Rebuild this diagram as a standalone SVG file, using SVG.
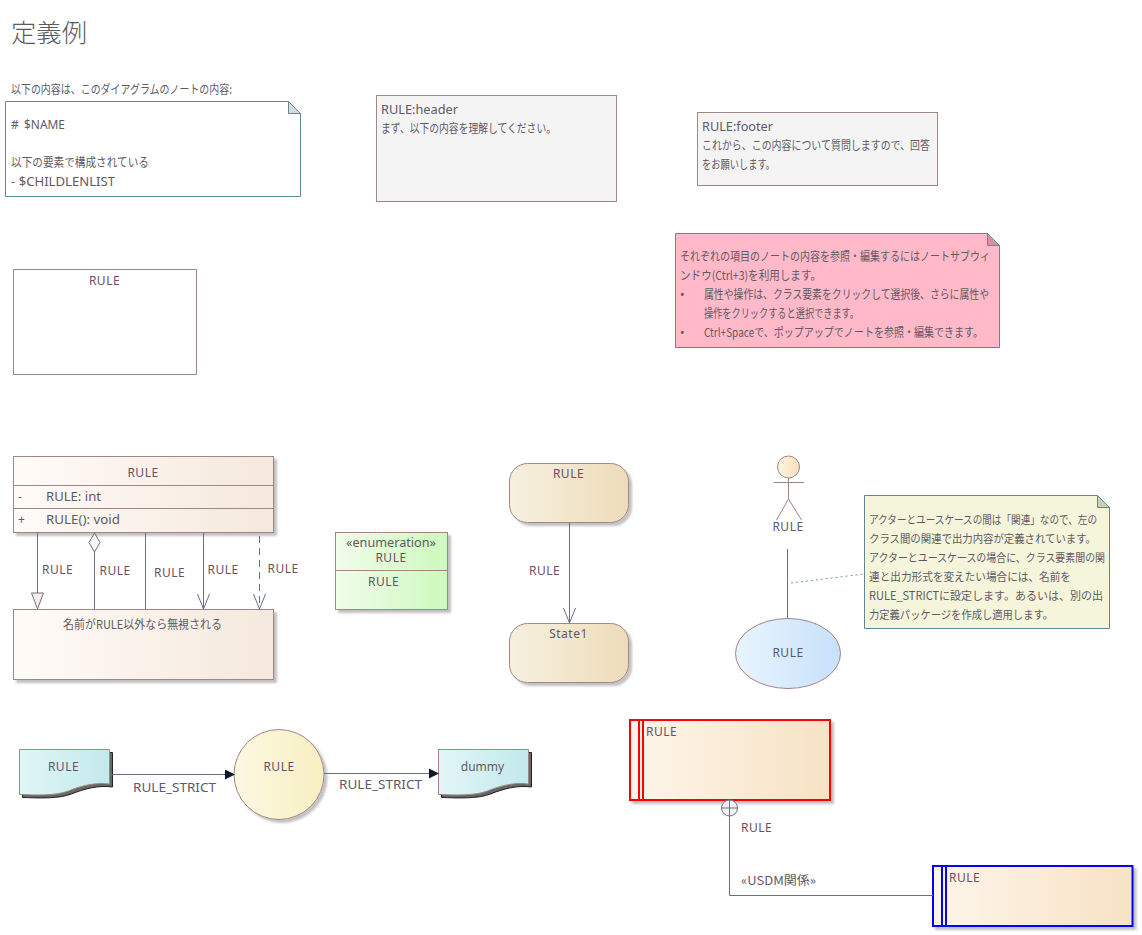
<svg xmlns="http://www.w3.org/2000/svg" width="1142" height="935" viewBox="0 0 1142 935">
<style>
text{font-family:"Noto Sans","Noto Sans CJK JP",sans-serif;font-size:12px;fill:#605a64}
.c{text-anchor:middle}
.t{font-size:25px;fill:#5a5a5a;font-family:"Noto Sans CJK JP","Noto Sans",sans-serif;font-weight:300}
.j{font-family:"Noto Sans CJK JP","Noto Sans",sans-serif;font-size:12px}
#note-yellow .j{font-size:11.400px}
.l{fill:#6e4f66;letter-spacing:.5px}
.r{letter-spacing:.5px}
.b{stroke:#a08686;stroke-width:1}
.n{stroke:#5f8796;stroke-width:1}
.e{fill:none;stroke:#6b7088;stroke-width:1}
.s{filter:url(#sh)}
</style>
<defs>
<filter id="sh" x="-5%" y="-5%" width="112%" height="115%"><feDropShadow dx="3" dy="3" stdDeviation="1.2" flood-color="#000" flood-opacity=".24"/></filter>
<linearGradient id="gc"><stop offset="0" stop-color="#fffbf8"/><stop offset="1" stop-color="#f5e8dc"/></linearGradient>
<linearGradient id="ge"><stop offset="0" stop-color="#f0fdea"/><stop offset="1" stop-color="#cdf9bd"/></linearGradient>
<linearGradient id="gs"><stop offset="0" stop-color="#f7f0e0"/><stop offset="1" stop-color="#eddcb9"/></linearGradient>
<linearGradient id="gu"><stop offset="0" stop-color="#e9f4fd"/><stop offset="1" stop-color="#c7e1fb"/></linearGradient>
<linearGradient id="gd"><stop offset="0" stop-color="#e2f6f7"/><stop offset="1" stop-color="#c2e9ec"/></linearGradient>
<linearGradient id="gp"><stop offset="0" stop-color="#fcf8e3"/><stop offset="1" stop-color="#f7efc1"/></linearGradient>
<linearGradient id="ga"><stop offset="0" stop-color="#fdf4e4"/><stop offset="1" stop-color="#f9dfb9"/></linearGradient>
<linearGradient id="gr"><stop offset="0" stop-color="#fdf5ea"/><stop offset="1" stop-color="#f7e2c4"/></linearGradient>
<path id="doc" d="M0 0H90V34.500C76 32.500 61 36.500 49 41.500C36 46.500 16 45.500 0 45Z"/>
</defs>
<text class="t" x="11" y="42" textLength="76" lengthAdjust="spacingAndGlyphs">定義例</text>
<text class="j" x="11" y="94" textLength="221" lengthAdjust="spacingAndGlyphs">以下の内容は、このダイアグラムのノートの内容:</text>

<g id="note-template">
<path class="n" fill="#fff" d="M5.500 101.500H288.500L300.500 113.500V196.500H5.500Z"/>
<path class="n" fill="#d6dcdc" d="M288.500 101.500L300.500 113.500H288.500Z"/>
<text x="11" y="129">#</text>
<text x="24" y="129" textLength="41" lengthAdjust="spacingAndGlyphs">$NAME</text>
<text class="j" x="11" y="167" textLength="138" lengthAdjust="spacingAndGlyphs">以下の要素で構成されている</text>
<text x="11" y="186" textLength="104" lengthAdjust="spacingAndGlyphs">- $CHILDLENLIST</text>
</g>
<g id="header">
<rect class="b" fill="#f4f4f4" x="376.500" y="95.500" width="240" height="106"/>
<text x="381" y="114" textLength="77" lengthAdjust="spacingAndGlyphs">RULE:header</text>
<text class="j" x="381" y="133" textLength="175" lengthAdjust="spacingAndGlyphs">まず、以下の内容を理解してください。</text>
</g>
<g id="footer">
<rect class="b" fill="#f4f4f4" x="697.500" y="112.500" width="240" height="73"/>
<text x="702" y="131" textLength="71" lengthAdjust="spacingAndGlyphs">RULE:footer</text>
<text class="j" x="702" y="150" textLength="228" lengthAdjust="spacingAndGlyphs">これから、この内容について質問しますので、回答</text>
<text class="j" x="702" y="169" textLength="73" lengthAdjust="spacingAndGlyphs">をお願いします。</text>
</g>
<g id="note-pink">
<path class="n" fill="#ffb9c8" d="M675.500 233.500H987.500L999.500 245.500V347.500H675.500Z"/>
<path class="n" fill="#d9909f" d="M987.500 233.500L999.500 245.500H987.500Z"/>
<text class="j" x="680" y="261" textLength="310" lengthAdjust="spacingAndGlyphs">それぞれの項目のノートの内容を参照・編集するにはノートサブウィ</text>
<text class="j" x="680" y="280" textLength="141" lengthAdjust="spacingAndGlyphs">ンドウ(Ctrl+3)を利用します。</text>
<text x="680" y="299">•</text>
<text class="j" x="704" y="299" textLength="285" lengthAdjust="spacingAndGlyphs">属性や操作は、クラス要素をクリックして選択後、さらに属性や</text>
<text class="j" x="704" y="318" textLength="155" lengthAdjust="spacingAndGlyphs">操作をクリックすると選択できます。</text>
<text x="680" y="337">•</text>
<text class="j" x="704" y="337" textLength="279" lengthAdjust="spacingAndGlyphs">Ctrl+Spaceで、ポップアップでノートを参照・編集できます。</text>
</g>
<g id="rule-boundary">
<rect class="b" fill="#fff" x="13.500" y="269.500" width="183" height="105"/>
<text class="c l" x="104.500" y="285">RULE</text>
</g>

<g id="class-rule">
<rect class="b s" fill="url(#gc)" x="13.500" y="456.500" width="260" height="76"/>
<path class="b" d="M13.500 485.500H273.500M13.500 508.500H273.500"/>
<text class="c l" x="143" y="477">RULE</text>
<text x="18" y="501">-</text>
<text x="46" y="501" textLength="55" lengthAdjust="spacingAndGlyphs">RULE: int</text>
<text x="18" y="524">+</text>
<text x="46" y="524" textLength="74" lengthAdjust="spacingAndGlyphs">RULE(): void</text>
</g>
<g id="class-ignored">
<rect class="b s" fill="url(#gc)" x="13.500" y="609.500" width="260" height="70"/>
<text class="j" x="63" y="629" textLength="159" lengthAdjust="spacingAndGlyphs">名前がRULE以外なら無視される</text>
</g>
<g id="enum-rule">
<rect class="b s" fill="url(#ge)" x="335.500" y="532.500" width="112" height="77"/>
<path class="b" d="M335.500 570.500H447.500"/>
<text class="c" x="391" y="547" textLength="90" lengthAdjust="spacingAndGlyphs">«enumeration»</text>
<text class="c l" x="391" y="562">RULE</text>
<text class="l" x="368" y="586">RULE</text>
</g>
<g id="state-rule">
<rect class="b s" fill="url(#gs)" x="509.500" y="463.500" width="119" height="59" rx="18"/>
<text class="c l" x="568.500" y="478">RULE</text>
</g>
<g id="state-1">
<rect class="b s" fill="url(#gs)" x="509.500" y="623.500" width="119" height="59" rx="18"/>
<text class="c r" x="568.500" y="638">State1</text>
</g>
<g id="actor-rule">
<ellipse class="b" fill="url(#ga)" cx="788.500" cy="467" rx="11" ry="11"/>
<path class="b" fill="none" d="M788.500 478V499M773.500 482.500H804M776.500 520L788.500 499L801.500 520"/>
<text class="c r" x="788" y="531">RULE</text>
</g>
<g id="usecase-rule">
<ellipse class="b" fill="url(#gu)" cx="788" cy="653.500" rx="52.500" ry="35"/>
<text class="c r" x="788" y="657">RULE</text>
</g>
<g id="note-yellow">
<path class="n" fill="#f5f5dc" d="M864.500 495.500H1097.500L1109.500 507.500V628.500H864.500Z"/>
<path class="n" fill="#c9d0b4" d="M1097.500 495.500L1109.500 507.500H1097.500Z"/>
<text class="j" x="869" y="524" textLength="228" lengthAdjust="spacingAndGlyphs">アクターとユースケースの間は「関連」なので、左の</text>
<text class="j" x="869" y="543" textLength="227" lengthAdjust="spacingAndGlyphs">クラス間の関連で出力内容が定義されています。</text>
<text class="j" x="869" y="562" textLength="236" lengthAdjust="spacingAndGlyphs">アクターとユースケースの場合に、クラス要素間の関</text>
<text class="j" x="869" y="581" textLength="202" lengthAdjust="spacingAndGlyphs">連と出力形式を変えたい場合には、名前を</text>
<text class="j" x="869" y="600" textLength="234" lengthAdjust="spacingAndGlyphs">RULE_STRICTに設定します。あるいは、別の出</text>
<text class="j" x="869" y="619" textLength="184" lengthAdjust="spacingAndGlyphs">力定義パッケージを作成し適用します。</text>
</g>
<g id="doc-rule">
<use href="#doc" x="22.500" y="752.500" fill="#666" stroke="#222"/>
<use class="b" href="#doc" x="19.500" y="749.500" fill="url(#gd)"/>
<text class="c l" x="63.500" y="771">RULE</text>
</g>
<g id="process-rule">
<circle class="b s" fill="url(#gp)" cx="279" cy="774.500" r="45"/>
<text class="c l" x="279" y="771">RULE</text>
</g>
<g id="doc-dummy">
<use href="#doc" x="441.500" y="752.500" fill="#666" stroke="#222"/>
<use class="b" href="#doc" x="438.500" y="749.500" fill="url(#gd)"/>
<text class="c" x="482.500" y="771">dummy</text>
</g>
<g id="block-red">
<rect fill="url(#gr)" stroke="#f00" stroke-width="2" class="s" x="630" y="720" width="200" height="80"/>
<path fill="none" stroke="#f00" stroke-width="2" d="M639 720V800M643 720V800"/>
<text class="l" x="646" y="736">RULE</text>
</g>
<g id="block-blue">
<rect fill="url(#gr)" stroke="#00f" stroke-width="2" class="s" x="933" y="866" width="199.500" height="60"/>
<path fill="none" stroke="#00f" stroke-width="2" d="M942 866V926M946 866V926"/>
<text class="l" x="949" y="882">RULE</text>
</g>

<g id="connectors">
<path class="e" d="M37.500 532.500V593"/>
<path class="e" style="fill:#f7ece6" d="M31.500 593H43.500L37.500 609Z"/>
<path class="e" d="M94.500 552V609"/>
<path class="e" style="fill:#fbf7f3" d="M94.500 533L100 542.500L94.500 552L89 542.500Z"/>
<path class="e" d="M145.500 532.500V609"/>
<path class="e" d="M203.500 532.500V609M197.500 594L203.500 609L209.500 594"/>
<path class="e" stroke-dasharray="7 5" d="M259.500 536V609"/>
<path class="e" d="M253.500 594L259.500 609L265.500 594"/>
<path class="e" d="M569.500 522.500V623M563.500 608L569.500 623L575.500 608"/>
<path class="e" d="M787.500 549V618"/>
<path fill="none" stroke="#6f9aa6" stroke-dasharray="2 3" d="M791 583L864 574"/>
<path class="e" d="M110 774.500H226"/>
<path fill="#10182c" d="M225 769.500L235 774.500L225 779.500Z"/>
<path class="e" d="M324 773.500H430"/>
<path fill="#10182c" d="M429 768.500L439 773.500L429 778.500Z"/>
<circle class="e" cx="729.500" cy="808" r="8" style="fill:#f4f2f2"/>
<path class="e" d="M721.500 808H737.500M729.500 800V895.500H933"/>
<text class="l" x="42" y="574">RULE</text>
<text class="l" x="99.500" y="575">RULE</text>
<text class="l" x="154" y="577">RULE</text>
<text class="l" x="207.500" y="574">RULE</text>
<text class="l" x="267.500" y="573">RULE</text>
<text class="l" x="529" y="575">RULE</text>
<text x="133" y="792" textLength="83" lengthAdjust="spacingAndGlyphs">RULE_STRICT</text>
<text x="339" y="789" textLength="83" lengthAdjust="spacingAndGlyphs">RULE_STRICT</text>
<text class="l" x="741" y="832">RULE</text>
<text class="j" x="741" y="885" textLength="75" lengthAdjust="spacingAndGlyphs">«USDM関係»</text>
</g>
</svg>
